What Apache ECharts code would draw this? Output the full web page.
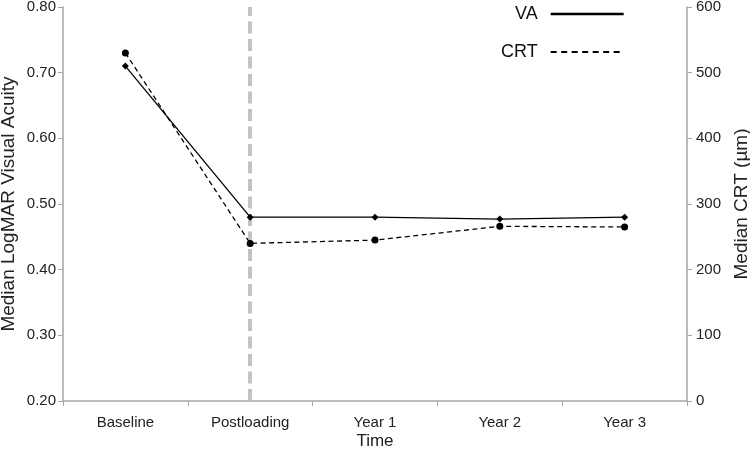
<!DOCTYPE html>
<html>
<head>
<meta charset="utf-8">
<script src="https://cdn.jsdelivr.net/npm/echarts@6/dist/echarts.min.js"></script>
<style>html,body{margin:0;padding:0;background:#fff;}#c{width:750px;height:451px;}</style>
</head>
<body>
<div id="c"></div>
<script>
const categories = ['Baseline', 'Postloading', 'Year 1', 'Year 2', 'Year 3'];
const vaValues = [0.71, 0.48, 0.48, 0.477, 0.48];
const crtValues = [530, 240, 245, 266, 265];
const leftTicks = { min: 0.2, max: 0.8, interval: 0.1 };
const rightTicks = { min: 0, max: 600, interval: 100 };
const markerCategory = 'Postloading';

const FONT = '"Liberation Sans", Arial, sans-serif';
const axisGray = '#a6a6a6';
const textColor = '#222';

const chart = echarts.init(document.getElementById('c'), null, { renderer: 'canvas' });
chart.setOption({
  animation: false,
  textStyle: { fontFamily: FONT },
  grid: { left: 63, right: 63, top: 7, bottom: 50, containLabel: false, outerBoundsMode: 'none' },
  legend: {
    orient: 'vertical',
    align: 'right',
    left: 496,
    top: 0,
    itemWidth: 73,
    itemHeight: 14,
    itemGap: 20,
    textStyle: { fontSize: 18, color: '#111', fontFamily: FONT, padding: [0, 8, 0, 0] },
    itemStyle: { opacity: 0 },
    data: [
      { name: 'VA', lineStyle: { width: 2.5, color: '#000', type: 'solid' } },
      { name: 'CRT', lineStyle: { width: 2, color: '#000', type: [6, 4.5] } }
    ]
  },
  xAxis: {
    type: 'category',
    data: categories,
    boundaryGap: true,
    name: 'Time',
    nameLocation: 'middle',
    nameGap: 32,
    nameMoveOverlap: false,
    nameTextStyle: { fontSize: 17, color: textColor },
    axisLine: { lineStyle: { color: axisGray, width: 1.5 } },
    axisTick: { show: true, length: 5, lineStyle: { color: axisGray } },
    axisLabel: { fontSize: 15, color: textColor, margin: 14 }
  },
  yAxis: [
    {
      type: 'value',
      min: leftTicks.min, max: leftTicks.max, interval: leftTicks.interval,
      name: 'Median LogMAR Visual Acuity',
      nameLocation: 'middle',
      nameGap: 45,
      nameMoveOverlap: false,
      nameTextStyle: { fontSize: 19, color: textColor },
      axisLine: { show: true, lineStyle: { color: axisGray, width: 1.5 } },
      axisTick: { show: true, length: 5, lineStyle: { color: axisGray } },
      splitLine: { show: false },
      axisLabel: { fontSize: 15, color: textColor, margin: 7, formatter: v => v.toFixed(2) }
    },
    {
      type: 'value',
      position: 'right',
      min: rightTicks.min, max: rightTicks.max, interval: rightTicks.interval,
      name: 'Median CRT (µm)',
      nameLocation: 'middle',
      nameGap: 44,
      nameRotate: 90,
      nameTextStyle: { fontSize: 19, color: textColor },
      axisLine: { show: true, lineStyle: { color: axisGray, width: 1.5 } },
      axisTick: { show: true, length: 5, lineStyle: { color: axisGray } },
      splitLine: { show: false },
      axisLabel: { fontSize: 15, color: textColor, margin: 9 }
    }
  ],
  series: [
    {
      name: 'VA',
      type: 'line',
      yAxisIndex: 0,
      data: vaValues,
      symbol: 'diamond',
      symbolSize: 7,
      itemStyle: { color: '#000' },
      lineStyle: { color: '#000', width: 1.3, type: 'solid' },
      z: 3,
      markLine: {
        silent: true,
        symbol: 'none',
        label: { show: false },
        lineStyle: { color: '#c3c3c3', width: 4, type: [12, 5.5] },
        data: [{ xAxis: markerCategory }],
        z: 1
      }
    },
    {
      name: 'CRT',
      type: 'line',
      yAxisIndex: 1,
      data: crtValues,
      symbol: 'circle',
      symbolSize: 7,
      itemStyle: { color: '#000' },
      lineStyle: { color: '#000', width: 1.3, type: [5, 3.5] },
      z: 3
    }
  ]
});
</script>
</body>
</html>
